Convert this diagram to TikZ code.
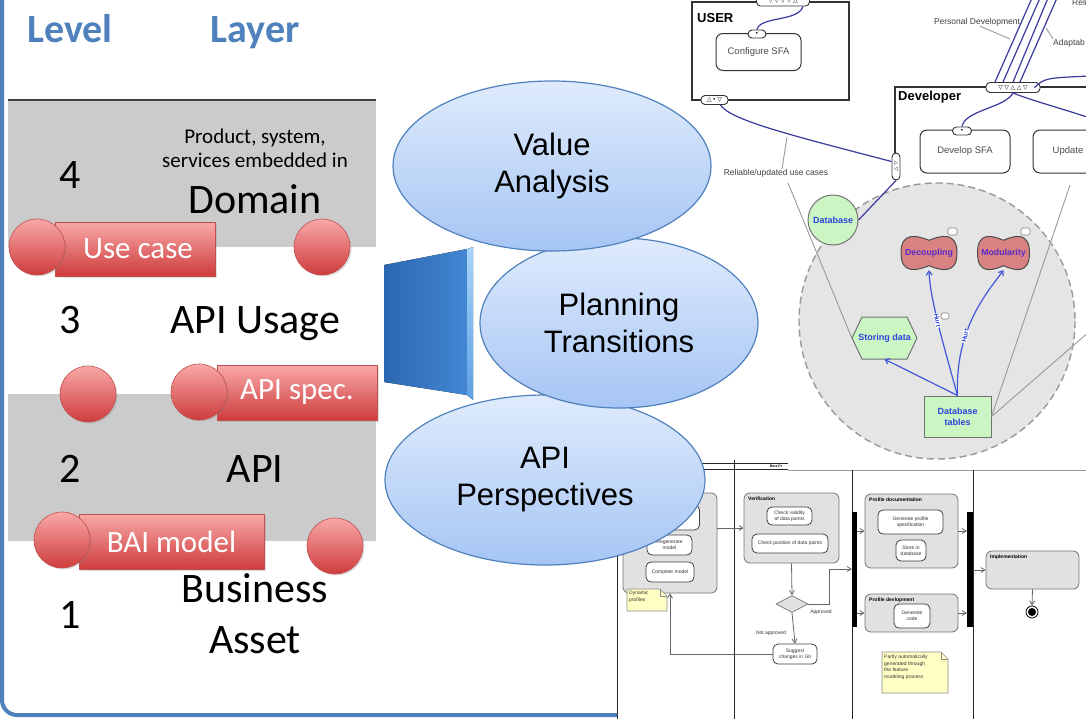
\documentclass[tikz,border=0pt]{standalone}
\usepackage{fontspec}
\setmainfont{Carlito}
\newfontfamily\arialf{Liberation Sans}
\newfontfamily\symf{DejaVu Sans}
\usetikzlibrary{arrows.meta,shapes.geometric,shadows,calc}

\definecolor{slideblue}{HTML}{4F81BD}
\definecolor{bandgray}{HTML}{CBCBCB}
\definecolor{ballhi}{HTML}{F9A8A8}
\definecolor{balllo}{HTML}{CE3C3C}
\definecolor{ballrim}{HTML}{C0504D}
\definecolor{ovalhi}{HTML}{DFEBFC}
\definecolor{ovallo}{HTML}{A6C5F4}
\definecolor{trapdark}{HTML}{2C68B2}
\definecolor{trapmid}{HTML}{4386D2}
\definecolor{bevelhi}{HTML}{A9D6FA}
\definecolor{bevello}{HTML}{5C9FE4}
\definecolor{flowblue}{HTML}{3A3A9E}
\definecolor{goalblue}{HTML}{2D45D8}
\definecolor{goalviolet}{HTML}{5A2BC8}
\definecolor{softgreen}{HTML}{CCF5C4}
\definecolor{salmon}{HTML}{D98282}
\definecolor{notey}{HTML}{FFFFC4}
\definecolor{actgray}{HTML}{E1E1E1}

% wavy soft-goal outline: centre x, centre y, half width, half height
\newcommand\softblob[4]{%
  \draw[fill=salmon, draw=black!70, line width=1pt]
    ({#1-#3},#2) .. controls ({#1-#3},{#2-1.25*#4}) and ({#1-0.45*#3},{#2-1.05*#4}) .. (#1,{#2-0.75*#4})
    .. controls ({#1+0.45*#3},{#2-1.05*#4}) and ({#1+#3},{#2-1.25*#4}) .. ({#1+#3},#2)
    .. controls ({#1+#3},{#2+1.25*#4}) and ({#1+0.45*#3},{#2+1.05*#4}) .. (#1,{#2+0.75*#4})
    .. controls ({#1-0.45*#3},{#2+1.05*#4}) and ({#1-#3},{#2+1.25*#4}) .. cycle;}

\begin{document}
\begin{tikzpicture}[x=1pt,y=-1pt,
  headtxt/.style={font=\bfseries\fontsize{40}{44}\selectfont, text=slideblue, anchor=base, inner sep=0pt},
  bigtxt/.style={font=\fontsize{42}{48}\selectfont, anchor=base, inner sep=0pt},
  medtxt/.style={font=\fontsize{21}{24}\selectfont, anchor=base, inner sep=0pt},
  ball/.style={circle, minimum size=56pt, inner sep=0pt, top color=ballhi, bottom color=balllo,
    draw=ballrim, line width=0.6pt, drop shadow={shadow xshift=1.5pt, shadow yshift=-1.5pt, opacity=0.25}},
  tag/.style={rectangle, inner sep=0pt, top color=ballhi, bottom color=balllo, draw=ballrim,
    line width=0.6pt, text=white, font=\fontsize{31}{36}\selectfont,
    drop shadow={shadow xshift=1.5pt, shadow yshift=-1.5pt, opacity=0.25}},
  oval/.style={ellipse, inner sep=0pt, top color=ovalhi, bottom color=ovallo, draw=slideblue,
    line width=1.2pt, font=\arialf\fontsize{31}{37}\selectfont, align=center},
  boxline/.style={draw=black!80, line width=1.3pt},
  boxlabel/.style={font=\arialf\bfseries\fontsize{13}{15}\selectfont, anchor=west, inner sep=0pt},
  task/.style={draw=black!80, fill=white, rounded corners=7pt, line width=1pt,
    font=\arialf\fontsize{9.5}{11}\selectfont, text=black!70, inner sep=0pt},
  pill/.style={draw=black!80, fill=white, rounded corners=4pt, inner sep=0pt, line width=0.9pt,
    font=\symf\fontsize{6}{6}\selectfont},
  flow/.style={draw=flowblue, line width=1.2pt},
  leader/.style={draw=black!40, line width=0.9pt},
  small/.style={font=\arialf\fontsize{8.5}{10}\selectfont, text=black!75, inner sep=0pt},
  goaltext/.style={font=\arialf\bfseries\fontsize{9}{11}\selectfont, text=goalblue, inner sep=0pt},
  blobtext/.style={font=\arialf\bfseries\fontsize{8.8}{10}\selectfont, text=goalviolet, inner sep=0pt},
  goalarrow/.style={draw=goalblue!90, line width=1.2pt, -{Straight Barb[length=4pt,width=6pt]}},
  hurt/.style={font=\arialf\bfseries\fontsize{6.5}{7}\selectfont, text=goalblue, fill=white, inner sep=0.5pt},
  bubble/.style={draw=black!50, fill=white, line width=0.6pt, rounded corners=1.5pt},
  lane/.style={draw=black!85, line width=1pt},
  actbox/.style={draw=black!55, fill=actgray, rounded corners=6pt, line width=0.8pt, inner sep=0pt},
  actpill/.style={draw=black!75, fill=white, rounded corners=5pt, line width=0.8pt, inner sep=0pt,
    align=center, font=\arialf\fontsize{5}{6}\selectfont, text=black!80},
  acttitle/.style={font=\arialf\bfseries\fontsize{5}{6}\selectfont, anchor=north west, inner sep=0pt},
  actlabel/.style={font=\arialf\fontsize{5}{6}\selectfont, inner sep=0pt, text=black!80},
  actarrow/.style={draw=black!60, line width=0.8pt, -{Straight Barb[length=4pt,width=5pt]}},
  notetext/.style={font=\arialf\fontsize{5}{6.5}\selectfont, anchor=north west, inner sep=0pt, align=left, text=black!80},
]
\clip (0,0) rectangle (1086,718);
\fill[white] (0,0) rectangle (1086,718);

% ================= goal model (upper right) =================
\draw[dash pattern=on 7pt off 4pt, draw=black!40, line width=1.4pt, fill=black!10] (937,321) circle [radius=138];

\draw[boxline] (692,2) rectangle (849,100);
\draw[boxline] (895,153) -- (895,87) -- (1090,87);
\node[boxlabel] (userlbl) at (697,18) {USER};
\node[boxlabel] (devlbl) at (898,97) {Developer};
\node[task, minimum width=85pt, minimum height=37pt] (conf) at (758.5,52) {Configure SFA};
\node[task, minimum width=90pt, minimum height=43pt] (devsfa) at (965,151.5) {Develop SFA};
\node[task, minimum width=70pt, minimum height=43pt] (upd) at (1068,151.5) {Update};

\node[pill, minimum width=53pt, minimum height=10pt] (utop) at (783,1)
  {▽\hspace{1.6pt}▽\hspace{1.6pt}▽\hspace{1.6pt}▽\hspace{1.6pt}△};
\node[pill, minimum width=27pt, minimum height=9pt] (ubot) at (714.5,100) {△\,•\,▽};
\node[pill, minimum width=54pt, minimum height=10pt] (dtop) at (1013,87.5)
  {▽\hspace{1.6pt}▽\hspace{1.6pt}△\hspace{1.6pt}△\hspace{1.6pt}▽};
\node[pill, minimum width=8pt, minimum height=27pt, align=center, font=\symf\fontsize{5}{6}\selectfont] (dleft) at (896,166.5) {▷\\◁};
\node[pill, minimum width=18pt, minimum height=8pt] (confpill) at (757,34) {•};
\node[pill, minimum width=19pt, minimum height=8pt] (devpill) at (962,131) {•};

% free ends of links leaving the view
\coordinate (top1) at (1032,-2);
\coordinate (top2) at (1040,-2);
\coordinate (top3) at (1048,-2);
\coordinate (top4) at (1057,-2);
\coordinate (offr1) at (1090,118);
\coordinate (offr2) at (1090,76);

\draw[flow] ($(utop.south)+(20,0)$) .. controls (798,22) and (760,16) .. (confpill.north);
\draw[flow] ($(ubot.south)+(6,0)$) .. controls (730,120) and (790,135) .. ($(dleft.west)+(0,-5)$);
\draw[flow] ($(dtop.north)+(-18,0)$) -- (top1);
\draw[flow] ($(dtop.north)+(-10,0)$) -- (top2);
\draw[flow] (dtop.north) -- (top3);
\draw[flow] ($(dtop.north)+(7,0)$) -- (top4);
\draw[flow] (dtop.south) .. controls (1005,108) and (965,110) .. (devpill.north);
\draw[flow] (dtop.south) .. controls (1030,100) and (1060,108) .. (offr1);
\draw[flow] ($(dtop.east)+(-6,0)$) .. controls (1045,78) .. (offr2);

\node[small] (persdev) at (977,22) {Personal Development};
\node[small, anchor=west] (adapt) at (1053,43) {Adaptab};
\node[small, anchor=west] (reli) at (1072,2) {Reli};
\node[small] (reluse) at (776,173) {Reliable/updated use cases};
\coordinate (pdend) at (1010,39);
\coordinate (adend) at (1046,28);
\coordinate (ruend) at (787,137);
\draw[leader] ($(persdev.south)+(3,0)$) -- (pdend);
\draw[leader] (adapt.north west) -- (adend);
\draw[leader] ($(reluse.north)+(6,0)$) -- (ruend);

% goals and tasks inside the boundary
\node[circle, draw=black!55, fill=softgreen, line width=1pt, minimum size=50pt, goaltext] (db) at (833,220) {Database};
\softblob{929}{253}{28}{17}
\softblob{1003.5}{253}{26}{17}
\node[blobtext, minimum width=56pt, minimum height=34pt] (decoup) at (929,253) {Decoupling};
\node[blobtext, minimum width=52pt, minimum height=34pt] (modul) at (1003.5,253) {Modularity};
\draw[fill=softgreen, draw=black!55, line width=1pt]
  (852,338) -- (862,317) -- (907,317) -- (917,338) -- (907,359) -- (862,359) -- cycle;
\node[goaltext, minimum width=65pt, minimum height=42pt] (store) at (884.5,338) {Storing data};
\node[draw=black!55, fill=softgreen, line width=1pt, minimum width=67pt, minimum height=41pt,
  align=center, goaltext] (dbt) at (957.5,416.5) {Database\\tables};

\draw[bubble] (948,228) rectangle (957,235);
\draw[bubble] (1021,228) rectangle (1030,235);
\draw[bubble] (941,313) rectangle (949,319);

\draw[flow] (dleft.south) -- (db.east);
\coordinate (lead1) at (788,183);
\coordinate (lead2) at (1070,185);
\coordinate (lead3) at (1090,331);
\draw[leader] (lead1) -- (store.west);
\draw[leader] (dbt.east) -- (lead2);
\draw[leader] (dbt.east) -- (lead3);

\draw[goalarrow] (dbt.north) -- (store.south);
\draw[goalarrow] (dbt.north) .. controls (945,350) and (930,300) .. node[hurt, pos=0.55, rotate=-78] {Hurt} (decoup.south);
\draw[goalarrow] (dbt.north) .. controls (955,330) and (985,295) .. node[hurt, pos=0.36, rotate=78] {Hurt} (modul.south);

% ================= activity diagram (lower right) =================
\draw[lane] (617,463) -- (788,463);
\draw[lane] (617,469) -- (788,469);
\draw[draw=black!40, line width=0.8pt] (788,470) -- (1090,470);
\node[font=\arialf\bfseries\fontsize{3.5}{4}\selectfont, inner sep=0pt] (lanehead) at (776,466.3) {Beta Pr};
\draw[lane] (617,463) -- (617,720);
\draw[lane] (734,460) -- (734,720);
\draw[lane] (852,470) -- (852,720);
\draw[lane] (973,470) -- (973,720);

\node[actbox, minimum width=94pt, minimum height=100pt] (modelbox) at (670,543) {};
\node[actpill, minimum width=55pt, minimum height=25pt] (mpill1) at (672,517.5) {};
\node[actpill, minimum width=45pt, minimum height=20pt] (mpill2) at (669.5,545) {Regenerate\\model};
\node[actpill, minimum width=48pt, minimum height=20pt] (mpill3) at (670,572) {Complete model};

\fill[notey, draw=black!45, line width=0.6pt] (627,589) -- (660,589) -- (667,596) -- (667,611) -- (627,611) -- cycle;
\draw[black!45, line width=0.6pt] (660,589) -- (660,596) -- (667,596);
\node[notetext] (dynnote) at (629,591) {Dynamic\\profiles};

\node[actbox, minimum width=95pt, minimum height=70pt] (verif) at (791.5,528) {};
\node[acttitle] (veriftitle) at (748,497) {Verification};
\node[actpill, minimum width=45pt, minimum height=18pt] (vpill1) at (789.5,516) {Check validity\\of data points};
\node[actpill, minimum width=76pt, minimum height=19pt] (vpill2) at (790,543.5) {Check position of data points};

\node[diamond, aspect=2, minimum width=32pt, minimum height=17pt, inner sep=0pt, fill=actgray, draw=black!50, line width=0.8pt] (dec) at (792,604) {};
\node[actpill, minimum width=44pt, minimum height=20pt] (suggest) at (795,654) {Suggest\\changes in Git};
\node[actlabel] (apprlbl) at (821,612) {Approved};
\node[actlabel] (notapp) at (771,633) {Not approved};

\node[fill=black, minimum width=5pt, minimum height=115pt, inner sep=0pt] (fork) at (854.5,569.5) {};
\node[fill=black, minimum width=6pt, minimum height=115pt, inner sep=0pt] (join) at (970,569.5) {};

\node[actbox, minimum width=93pt, minimum height=74pt] (profdoc) at (911.5,531) {};
\node[acttitle] (profdoctitle) at (869,498) {Profile documentation};
\node[actpill, minimum width=65pt, minimum height=24pt] (ppill1) at (910.5,522) {Generate profile\\specification};
\node[actpill, minimum width=30pt, minimum height=21pt] (ppill2) at (911,550.5) {Store in\\database};

\node[actbox, minimum width=93pt, minimum height=38pt] (profdev) at (911.5,613) {};
\node[acttitle] (profdevtitle) at (869,597.5) {Profile devlopment};
\node[actpill, minimum width=36pt, minimum height=24pt] (dpill) at (912,616) {Generate\\code};

\node[actbox, minimum width=93pt, minimum height=38pt] (impl) at (1032.5,570) {};
\node[acttitle] (impltitle) at (990,555) {Implementation};
\node[circle, draw=black, fill=white, line width=0.8pt, minimum size=12pt, inner sep=0pt] (final) at (1032,612) {};
\fill[black] (final.center) circle [radius=4];

\fill[notey, draw=black!45, line width=0.6pt] (882,652) -- (941,652) -- (948,659) -- (948,693) -- (882,693) -- cycle;
\draw[black!45, line width=0.6pt] (941,652) -- (941,659) -- (948,659);
\node[notetext] (partnote) at (884,655) {Partly automatically\\generated through\\the feature\\modeling process};

\coordinate (apprturn) at (829,569);
\draw[actarrow] (verif.west -| modelbox.east) -- (verif.west);
\draw[actarrow] (verif.south) -- (dec.north);
\draw[actarrow] (dec.east) -| (apprturn) -- (fork.west |- apprturn);
\draw[actarrow] (dec.south) -- (suggest.north);
\draw[actarrow] (suggest.west) -| (modelbox.south);
\draw[actarrow] (profdoc.west -| fork.east) -- (profdoc.west);
\draw[actarrow] (profdev.west -| fork.east) -- (profdev.west);
\draw[actarrow] (profdoc.east) -- (profdoc.east -| join.west);
\draw[actarrow] (profdev.east) -- (profdev.east -| join.west);
\draw[actarrow] (impl.west -| join.east) -- (impl.west);
\draw[actarrow] (impl.south) -- (final.north);

% ================= level / layer panel (left) =================
\draw[slideblue, line width=4pt] (2,-5) -- (2,700) arc[start angle=180, end angle=90, radius=15] -- (617,715);

\fill[bandgray] (8,100) rectangle (376,247);
\draw[black!75, line width=2pt] (8,100) -- (376,100);
\fill[bandgray] (8,394) rectangle (376,541);

\node[headtxt] (lvlhead) at (70,42) {Level};
\node[headtxt] (layhead) at (255,42) {Layer};
\node[bigtxt] (n4) at (70,188) {4};
\node[medtxt] (prod1) at (255,143) {Product, system,};
\node[medtxt] (prod2) at (255,167) {services embedded in};
\node[bigtxt] (dom) at (255,213) {Domain};
\node[bigtxt] (n3) at (70,333) {3};
\node[bigtxt] (apiu) at (255,333) {API Usage};
\node[bigtxt] (n2) at (70,482) {2};
\node[bigtxt] (apil) at (255,482) {API};
\node[bigtxt] (n1) at (70,628) {1};
\node[bigtxt] (bus) at (255,602) {Business};
\node[bigtxt] (ast) at (255,653) {Asset};

\node[tag, minimum width=160pt, minimum height=54pt] (usecase) at (135,249) {\hspace{6pt}Use case};
\node[ball] (b1) at (37,247) {};
\node[ball] (b2) at (322,247) {};
\node[tag, minimum width=160pt, minimum height=55pt] (apispec) at (297,392.5) {API spec.};
\node[ball] (b3) at (88,394) {};
\node[ball] (b4) at (199,392) {};
\node[tag, minimum width=185pt, minimum height=55pt] (baimodel) at (171.5,541.5) {BAI model};
\node[ball] (b5) at (62,540) {};
\node[ball] (b6) at (335,546) {};

% ================= funnel and the three views =================
\fill[left color=trapdark, right color=trapmid] (384,265) -- (467,249) -- (467,395) -- (384,382) -- cycle;
\fill[top color=bevelhi, bottom color=bevello] (467,249) -- (473,247) -- (473,400) -- (467,395) -- cycle;

\node[oval, minimum width=320pt, minimum height=170pt] (apiv) at (545,480) {API\\Perspectives};
\node[oval, minimum width=278pt, minimum height=170pt] (plan) at (619,323) {Planning\\Transitions};
\node[oval, minimum width=318pt, minimum height=170pt] (value) at (552,166) {Value\\Analysis};
\end{tikzpicture}
\end{document}
